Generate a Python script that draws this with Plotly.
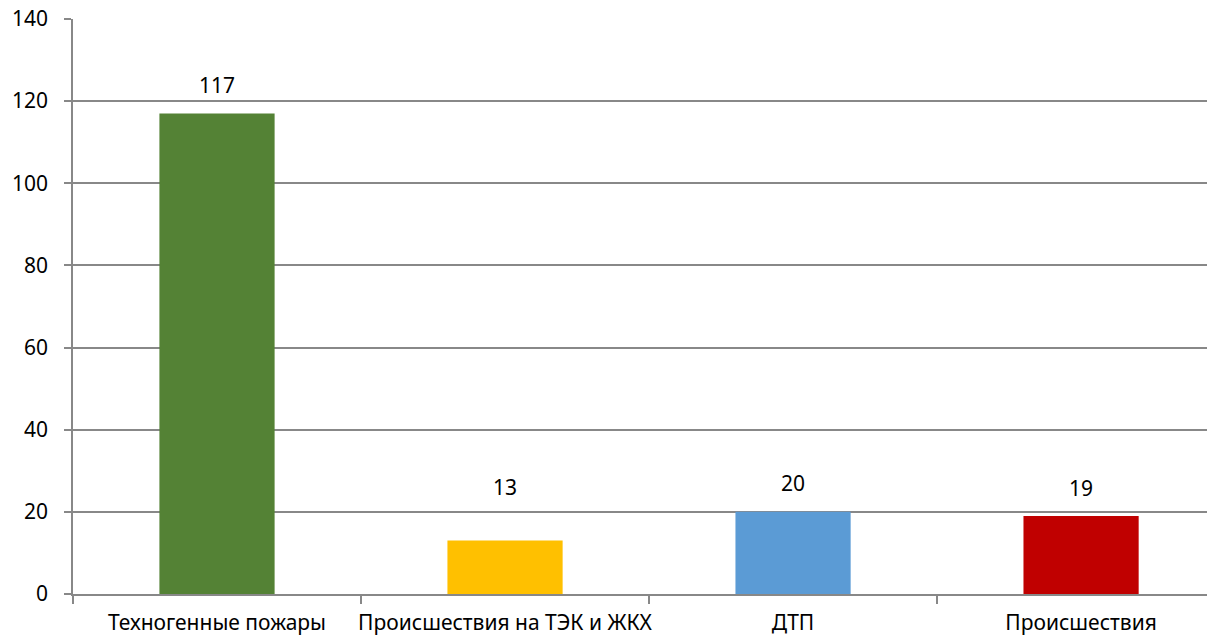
import plotly.graph_objects as go

categories = ["Техногенные пожары", "Происшествия на ТЭК и ЖКХ", "ДТП", "Происшествия"]
values = [117, 13, 20, 19]
colors = ["#548235", "#FFC000", "#5B9BD5", "#C00000"]
y_ticks = [0, 20, 40, 60, 80, 100, 120, 140]

FONT = "Noto Sans"
FS = 21
label_shift = [28, 54, 29, 28]

fig = go.Figure()
fig.add_trace(go.Bar(
    x=categories, y=values, marker_color=colors, width=0.4,
    marker_line_width=0, showlegend=False,
))
for c, v, s in zip(categories, values, label_shift):
    fig.add_annotation(x=c, y=v, text=str(v), showarrow=False, yshift=s,
                       font=dict(family=FONT, size=FS, color="#000"))

fig.update_layout(
    width=1207, height=630,
    margin=dict(l=65, r=0, t=11, b=44, autoexpand=False),
    plot_bgcolor="white", paper_bgcolor="white",
    font=dict(family=FONT, size=FS, color="#000"),
)
fig.update_xaxes(
    range=[-0.5, 3.465], tickson="boundaries", ticks="outside", ticklen=8,
    tickcolor="#888", tickwidth=1.5, showline=True, linecolor="#888", linewidth=1.5,
    showgrid=False, tickfont=dict(family=FONT, size=FS), ticklabelstandoff=9,
    tickangle=0, automargin=False, ticklabeloverflow="allow",
)
fig.update_yaxes(
    range=[0, 140], tickvals=y_ticks, ticks="outside", ticklen=7, tickcolor="#888",
    tickwidth=1.5, showline=True, linecolor="#888", linewidth=1.5,
    showgrid=True, gridcolor="#888", gridwidth=1.5, zeroline=False,
    tickfont=dict(family=FONT, size=FS), ticklabelstandoff=12, automargin=False,
    ticklabeloverflow="allow",
)
fig.write_html("out.html")
